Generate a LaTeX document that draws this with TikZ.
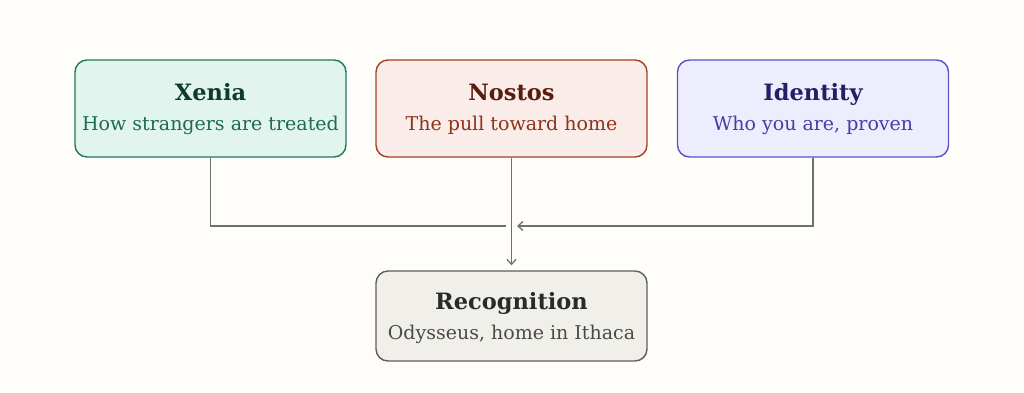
\documentclass[tikz,border=0pt]{standalone}
\usepackage{fontspec}
\setmainfont{DejaVu Serif}
\usetikzlibrary{arrows.meta}
\definecolor{bg}{HTML}{FEFDF9}
\definecolor{xfill}{HTML}{E1F4EE}
\definecolor{xdraw}{HTML}{1F7A5C}
\definecolor{xtitle}{HTML}{0E3B2E}
\definecolor{xsub}{HTML}{1E6A54}
\definecolor{nfill}{HTML}{FAECE8}
\definecolor{ndraw}{HTML}{A3421F}
\definecolor{ntitle}{HTML}{5A1C0C}
\definecolor{nsub}{HTML}{8C3418}
\definecolor{ifill}{HTML}{EEEDFD}
\definecolor{idraw}{HTML}{5B50C6}
\definecolor{ititle}{HTML}{231F66}
\definecolor{isub}{HTML}{463DA6}
\definecolor{rfill}{HTML}{F1EFEA}
\definecolor{rdraw}{HTML}{5E5E5C}
\definecolor{rtitle}{HTML}{2A2A28}
\definecolor{rsub}{HTML}{4A4A48}
\definecolor{wire}{HTML}{707070}
\tikzset{
  box/.style={draw, rounded corners=12pt, line width=1.4pt, minimum width=271pt, inner sep=0pt},
  ttl/.style={anchor=base, font=\bfseries\fontsize{22.5pt}{26pt}\selectfont, inner sep=0pt},
  sub/.style={anchor=base, font=\fontsize{19pt}{23pt}\selectfont, inner sep=0pt},
  wireline/.style={draw=wire, line width=1.5pt},
  tip/.style={-{Straight Barb[length=5pt,width=9pt,line width=1.3pt]}}
}
\begin{document}
\begin{tikzpicture}[x=1pt,y=-1pt]
\useasboundingbox (0,0) rectangle (1024,392);
\fill[bg] (0,0) rectangle (1024,392);
% boxes
\node[box, fill=xfill, draw=xdraw, minimum height=97pt] (xenia) at (210.5,108.5) {};
\node[box, fill=nfill, draw=ndraw, minimum height=97pt] (nostos) at (511.5,108.5) {};
\node[box, fill=ifill, draw=idraw, minimum height=97pt] (ident) at (813,108.5) {};
\node[box, fill=rfill, draw=rdraw, minimum height=90pt] (recog) at (511.5,316) {};
% texts
\node[ttl, text=xtitle] (xt) at (210.5,100) {Xenia};
\node[sub, text=xsub] (xs) at (210.5,130) {How strangers are treated};
\node[ttl, text=ntitle] (nt) at (511.5,100) {Nostos};
\node[sub, text=nsub] (ns) at (511.5,130) {The pull toward home};
\node[ttl, text=ititle] (it) at (813,100) {Identity};
\node[sub, text=isub] (is) at (813,130) {Who you are, proven};
\node[ttl, text=rtitle] (rt) at (511.5,309.5) {Recognition};
\node[sub, text=rsub] (rs) at (511.5,339) {Odysseus, home in Ithaca};
% connectors
\coordinate (lend) at (506,226);
\coordinate (rend) at (517,226);
\draw[wireline] (xenia.south) |- (lend);
\draw[wireline, tip] (ident.south) |- (rend);
\draw[wireline, tip] (nostos.south) -- ([yshift=5pt]recog.north);
\end{tikzpicture}
\end{document}
